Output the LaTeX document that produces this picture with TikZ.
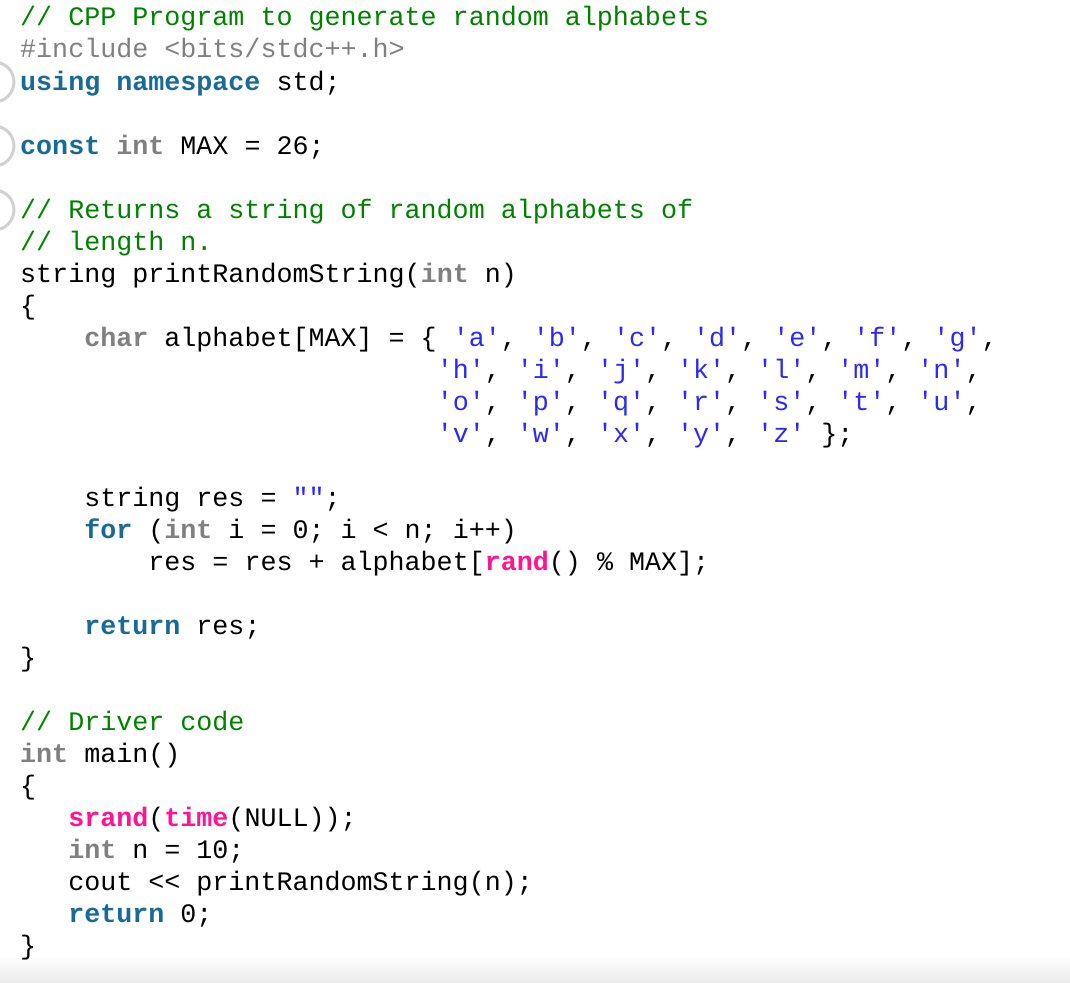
\documentclass[tikz,border=0pt]{standalone}
\usepackage{fontspec}
\setmonofont{Liberation Mono}
\definecolor{cmt}{HTML}{008200}
\definecolor{kw}{HTML}{1A6A96}
\definecolor{ty}{HTML}{808080}
\definecolor{str}{HTML}{2A2AF0}
\definecolor{fn}{HTML}{FF1493}
\newcommand\K[1]{\textcolor{kw}{\bfseries #1}}
\newcommand\T[1]{\textcolor{ty}{\bfseries #1}}
\newcommand\F[1]{\textcolor{fn}{\bfseries #1}}
\newcommand\C[1]{\textcolor{cmt}{#1}}
\newcommand\Q[1]{\textcolor{str}{#1}}
\begin{document}
\begin{tikzpicture}[x=1pt,y=-1pt,
  ln/.style={anchor=base west, inner sep=0, font=\ttfamily\fontsize{26.7}{32}\selectfont}]
\useasboundingbox (0,0) rectangle (1070,982);
\fill[white] (0,0) rectangle (1070,982);
\shade[top color=white, bottom color=black!8] (0,955) rectangle (1070,982);
\foreach \yy in {82,146,210}
  \draw[black!18, line width=3pt] (-6,\yy) circle (20);
\def\X{20}
\node[ln] (l0) at (\X,26) {\C{//~CPP~Program~to~generate~random~alphabets}};
\node[ln] (l1) at (\X,58) {\textcolor{ty}{\#include~<bits/stdc++.h>}};
\node[ln] (l2) at (\X,90) {\K{using}~\K{namespace}~std;};
\node[ln] (l4) at (\X,154) {\K{const}~\T{int}~MAX~=~26;};
\node[ln] (l6) at (\X,218) {\C{//~Returns~a~string~of~random~alphabets~of}};
\node[ln] (l7) at (\X,250) {\C{//~length~n.}};
\node[ln] (l8) at (\X,282) {string~printRandomString(\T{int}~n)};
\node[ln] (l9) at (\X,314) {\{};
\node[ln] (l10) at (\X,346) {~~~~\T{char}~alphabet[MAX]~=~\{~\Q{'a'},~\Q{'b'},~\Q{'c'},~\Q{'d'},~\Q{'e'},~\Q{'f'},~\Q{'g'},};
\node[ln] (l11) at (\X,378) {~~~~~~~~~~~~~~~~~~~~~~~~~~\Q{'h'},~\Q{'i'},~\Q{'j'},~\Q{'k'},~\Q{'l'},~\Q{'m'},~\Q{'n'},};
\node[ln] (l12) at (\X,410) {~~~~~~~~~~~~~~~~~~~~~~~~~~\Q{'o'},~\Q{'p'},~\Q{'q'},~\Q{'r'},~\Q{'s'},~\Q{'t'},~\Q{'u'},};
\node[ln] (l13) at (\X,442) {~~~~~~~~~~~~~~~~~~~~~~~~~~\Q{'v'},~\Q{'w'},~\Q{'x'},~\Q{'y'},~\Q{'z'}~\};};
\node[ln] (l15) at (\X,506) {~~~~string~res~=~\Q{""};};
\node[ln] (l16) at (\X,538) {~~~~\K{for}~(\T{int}~i~=~0;~i~<~n;~i++)};
\node[ln] (l17) at (\X,570) {~~~~~~~~res~=~res~+~alphabet[\F{rand}()~\%~MAX];};
\node[ln] (l19) at (\X,634) {~~~~\K{return}~res;};
\node[ln] (l20) at (\X,666) {\}};
\node[ln] (l22) at (\X,730) {\C{//~Driver~code}};
\node[ln] (l23) at (\X,762) {\T{int}~main()};
\node[ln] (l24) at (\X,794) {\{};
\node[ln] (l25) at (\X,826) {~~~\F{srand}(\F{time}(NULL));};
\node[ln] (l26) at (\X,858) {~~~\T{int}~n~=~10;};
\node[ln] (l27) at (\X,890) {~~~cout~<<~printRandomString(n);};
\node[ln] (l28) at (\X,922) {~~~\K{return}~0;};
\node[ln] (l29) at (\X,954) {\}};
\end{tikzpicture}
\end{document}
